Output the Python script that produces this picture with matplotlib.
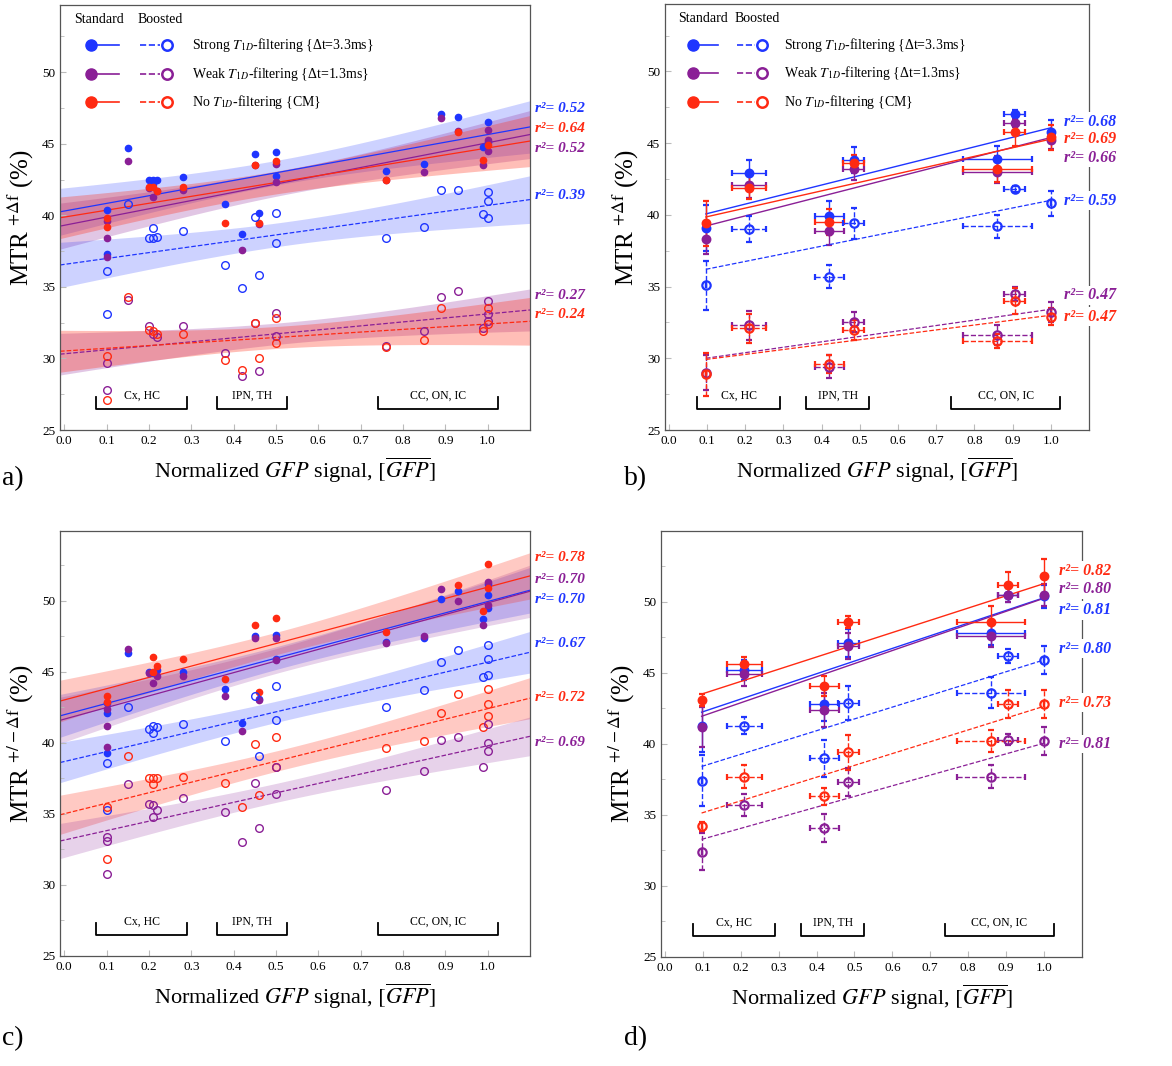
import numpy as np
import matplotlib
matplotlib.use("Agg")
import matplotlib.pyplot as plt
from matplotlib.ticker import MultipleLocator

plt.rcParams['font.family'] = ['Liberation Serif', 'DejaVu Serif']
plt.rcParams['mathtext.fontset'] = 'stix'

BLUE = '#1f35ff'
PURPLE = '#8a1f96'
RED = '#ff2a12'

# ---------- panel a: MTR +df, individual samples ----------
a_sf_x = [0.1, 0.1, 0.15, 0.2, 0.21, 0.22, 0.21, 0.28, 0.38, 0.42, 0.45, 0.46, 0.5, 0.5, 0.76, 0.85, 0.89, 0.93, 0.99, 1.0, 1.0]
a_sf_y = [40.35, 37.3, 44.7, 42.5, 42.5, 42.5, 42.2, 42.7, 40.8, 38.7, 44.3, 40.2, 44.4, 42.75, 43.1, 43.6, 47.1, 46.9, 44.8, 46.5, 45.1]
a_wf_x = [0.1, 0.1, 0.1, 0.15, 0.2, 0.21, 0.22, 0.28, 0.42, 0.45, 0.46, 0.5, 0.5, 0.76, 0.85, 0.89, 0.93, 0.99, 1.0, 1.0, 1.0]
a_wf_y = [39.6, 38.4, 37.1, 43.8, 41.9, 41.3, 41.7, 41.8, 37.6, 43.5, 39.4, 43.6, 42.3, 42.5, 43.0, 46.8, 45.9, 43.5, 46.0, 45.3, 44.5]
a_nf_x = [0.1, 0.1, 0.2, 0.21, 0.22, 0.28, 0.38, 0.45, 0.46, 0.5, 0.76, 0.93, 0.99, 1.0]
a_nf_y = [39.8, 39.2, 42.0, 42.0, 41.7, 42.0, 39.5, 43.5, 39.5, 43.8, 42.5, 45.8, 43.9, 44.9]
a_so_x = [0.1, 0.1, 0.15, 0.2, 0.21, 0.21, 0.22, 0.28, 0.38, 0.42, 0.45, 0.46, 0.5, 0.5, 0.76, 0.85, 0.89, 0.93, 0.99, 1.0, 1.0, 1.0]
a_so_y = [36.1, 33.1, 40.8, 38.4, 39.1, 38.4, 38.5, 38.9, 36.5, 34.9, 39.9, 35.8, 40.2, 38.1, 38.4, 39.2, 41.8, 41.8, 40.1, 41.6, 41.0, 39.8]
a_wo_x = [0.1, 0.1, 0.15, 0.2, 0.21, 0.22, 0.28, 0.38, 0.42, 0.45, 0.46, 0.5, 0.5, 0.76, 0.85, 0.89, 0.93, 0.99, 1.0, 1.0, 1.0]
a_wo_y = [29.7, 27.8, 34.1, 32.3, 31.7, 31.5, 32.3, 30.4, 28.8, 32.5, 29.1, 33.2, 31.6, 30.9, 31.9, 34.3, 34.7, 32.1, 34.0, 33.1, 32.6]
a_no_x = [0.1, 0.1, 0.15, 0.2, 0.21, 0.22, 0.28, 0.38, 0.42, 0.45, 0.46, 0.5, 0.5, 0.76, 0.85, 0.89, 0.99, 1.0, 1.0]
a_no_y = [30.2, 27.1, 34.3, 32.0, 31.9, 31.7, 31.7, 29.9, 29.2, 32.5, 30.0, 32.8, 31.1, 30.8, 31.3, 33.5, 31.9, 33.5, 32.4]

# ---------- panel c: MTR +/-df, individual samples ----------
c_sf_x = [0.1, 0.1, 0.1, 0.15, 0.2, 0.21, 0.22, 0.28, 0.38, 0.42, 0.45, 0.46, 0.5, 0.5, 0.76, 0.85, 0.89, 0.93, 0.99, 1.0, 1.0, 1.0]
c_sf_y = [42.8, 42.1, 39.3, 46.3, 45.0, 44.9, 45.1, 45.0, 43.8, 41.4, 47.5, 43.1, 47.6, 45.9, 47.1, 47.4, 50.1, 50.7, 48.7, 51.2, 50.4, 49.5]
c_wf_x = [0.1, 0.1, 0.1, 0.15, 0.2, 0.21, 0.22, 0.28, 0.38, 0.42, 0.45, 0.46, 0.5, 0.5, 0.76, 0.85, 0.89, 0.93, 0.99, 1.0, 1.0]
c_wf_y = [42.4, 41.2, 39.7, 46.6, 44.9, 44.2, 44.7, 44.7, 43.3, 40.8, 47.4, 43.0, 47.4, 45.8, 47.0, 47.5, 50.8, 50.0, 48.3, 51.3, 49.7]
c_nf_x = [0.1, 0.1, 0.21, 0.21, 0.22, 0.28, 0.38, 0.45, 0.46, 0.5, 0.76, 0.93, 0.99, 1.0, 1.0]
c_nf_y = [43.3, 42.9, 46.0, 45.0, 45.4, 45.9, 44.5, 48.3, 43.6, 48.8, 47.8, 51.1, 49.3, 52.6, 50.9]
c_so_x = [0.1, 0.1, 0.15, 0.2, 0.21, 0.21, 0.22, 0.28, 0.38, 0.45, 0.46, 0.5, 0.5, 0.76, 0.85, 0.89, 0.93, 0.99, 1.0, 1.0, 1.0]
c_so_y = [38.6, 35.3, 42.5, 41.0, 41.2, 40.7, 41.1, 41.3, 40.1, 43.3, 39.1, 44.0, 41.6, 42.5, 43.7, 45.7, 46.5, 44.6, 46.9, 45.9, 44.8]
c_no_x = [0.1, 0.1, 0.15, 0.2, 0.21, 0.21, 0.22, 0.28, 0.38, 0.42, 0.45, 0.46, 0.5, 0.5, 0.76, 0.85, 0.89, 0.93, 0.99, 1.0, 1.0, 1.0]
c_no_y = [35.5, 31.8, 39.1, 37.5, 37.5, 37.1, 37.5, 37.6, 37.2, 35.5, 39.9, 36.3, 40.4, 38.3, 39.6, 40.1, 42.1, 43.4, 41.1, 43.8, 42.7, 41.9]
c_wo_x = [0.1, 0.1, 0.1, 0.15, 0.2, 0.21, 0.21, 0.22, 0.28, 0.38, 0.42, 0.45, 0.46, 0.5, 0.5, 0.76, 0.85, 0.89, 0.93, 0.99, 1.0, 1.0, 1.0]
c_wo_y = [33.4, 33.1, 30.8, 37.1, 35.7, 35.6, 34.8, 35.3, 36.1, 35.1, 33.0, 37.2, 34.0, 36.4, 38.3, 36.7, 38.0, 40.2, 40.4, 38.3, 41.3, 40.0, 39.4]

# ---------- panels b, d: region means ----------
reg_x = [0.097, 0.21, 0.42, 0.484, 0.86, 0.905, 1.0]
reg_xerr = [0.0, 0.045, 0.038, 0.028, 0.09, 0.027, 0.0]

b_sf = [39.1, 42.9, 39.9, 43.8, 43.9, 47.0, 45.8]
b_wf = [38.3, 42.1, 38.9, 43.2, 43.0, 46.4, 45.2]
b_nf = [39.4, 41.9, 39.5, 43.6, 43.2, 45.8, 45.4]
b_so = [35.1, 39.0, 35.7, 39.4, 39.2, 41.8, 40.8]
b_wo = [29.0, 32.3, 29.4, 32.5, 31.6, 34.5, 33.2]
b_no = [28.9, 32.1, 29.6, 32.0, 31.2, 34.0, 32.9]
b_sf_e = [1.6, 0.9, 1.1, 0.9, 0.9, 0.3, 0.8]
b_wf_e = [1.0, 0.9, 1.0, 0.8, 0.8, 0.3, 0.6]
b_nf_e = [1.6, 0.8, 0.9, 0.6, 0.9, 1.0, 0.9]
b_so_e = [1.7, 0.9, 0.8, 1.1, 0.8, 0.2, 0.9]
b_wo_e = [1.2, 1.0, 0.8, 0.7, 0.7, 0.5, 0.7]
b_no_e = [1.5, 1.0, 0.6, 0.7, 0.5, 0.9, 0.6]

d_sf = [41.3, 45.2, 42.8, 47.1, 47.8, 50.5, 50.4]
d_wf = [41.2, 44.9, 42.4, 46.9, 47.6, 50.5, 50.5]
d_nf = [43.1, 45.6, 44.1, 48.6, 48.6, 51.2, 51.8]
d_so = [37.4, 41.3, 39.0, 42.9, 43.6, 46.2, 45.9]
d_wo = [32.4, 35.7, 34.1, 37.3, 37.7, 40.3, 40.2]
d_no = [34.2, 37.7, 36.3, 39.4, 40.2, 42.8, 42.8]
d_sf_e = [1.9, 0.7, 1.2, 1.0, 0.8, 0.5, 0.8]
d_wf_e = [1.4, 0.8, 1.2, 0.9, 0.8, 0.5, 0.8]
d_nf_e = [0.4, 0.5, 0.7, 0.4, 1.1, 0.9, 1.2]
d_so_e = [1.8, 0.6, 1.3, 1.2, 1.1, 0.5, 1.0]
d_wo_e = [1.3, 0.8, 1.0, 1.0, 0.8, 0.4, 1.0]
d_no_e = [0.3, 0.8, 0.6, 1.2, 0.8, 1.0, 1.0]

# r^2 annotations: (text, y, colour)
a_r2 = [('0.52', 47.5, BLUE), ('0.64', 46.1, RED), ('0.52', 44.7, PURPLE), ('0.39', 41.4, BLUE), ('0.27', 34.4, PURPLE), ('0.24', 33.1, RED)]
b_r2 = [('0.68', 46.5, BLUE), ('0.69', 45.3, RED), ('0.66', 44.0, PURPLE), ('0.59', 41.0, BLUE), ('0.47', 34.4, PURPLE), ('0.47', 32.9, RED)]
c_r2 = [('0.78', 53.0, RED), ('0.70', 51.5, PURPLE), ('0.70', 50.1, BLUE), ('0.67', 47.0, BLUE), ('0.72', 43.2, RED), ('0.69', 40.0, PURPLE)]
d_r2 = [('0.82', 52.2, RED), ('0.80', 50.9, PURPLE), ('0.81', 49.4, BLUE), ('0.80', 46.7, BLUE), ('0.73', 42.9, RED), ('0.81', 40.0, PURPLE)]

regions = [('Cx, HC', 0.075, 0.29), ('IPN, TH', 0.36, 0.525), ('CC, ON, IC', 0.74, 1.025)]
legend_rows = [(BLUE, 'Strong $T_{1D}$-filtering {Δt=3.3ms}'),
               (PURPLE, 'Weak $T_{1D}$-filtering {Δt=1.3ms}'),
               (RED, 'No $T_{1D}$-filtering {CM}')]


def fit_line(x, y):
    x = np.asarray(x); y = np.asarray(y)
    k, b = np.polyfit(x, y, 1)
    return k, b, x, y


def band(ax, x, y, color, ls, alpha):
    k, b, x, y = fit_line(x, y)
    xx = np.linspace(-0.01, 1.1, 100)
    n = len(x)
    res = y - (k * x + b)
    s = np.sqrt(np.sum(res ** 2) / (n - 2))
    se = s * np.sqrt(1.0 / n + (xx - x.mean()) ** 2 / np.sum((x - x.mean()) ** 2))
    yy = k * xx + b
    ax.fill_between(xx, yy - 2.05 * se, yy + 2.05 * se, color=color, alpha=alpha, lw=0)
    ax.plot(xx, yy, color=color, ls=ls, lw=0.9)


def setup(ax, ylabel, top):
    ax.set_xlim(-0.01, 1.1)
    ax.set_ylim(25, top)
    ax.set_xticks(np.arange(0, 1.01, 0.1))
    ax.set_xticklabels(['%.1f' % v for v in np.arange(0, 1.01, 0.1)])
    ax.set_yticks([25, 30, 35, 40, 45, 50])
    ax.yaxis.set_minor_locator(MultipleLocator(2.5))
    ax.tick_params(direction='in', length=4, labelsize=9.5, color='#bbbbbb')
    ax.tick_params(which='minor', direction='in', length=3, color='#bbbbbb')
    for s in ax.spines.values():
        s.set_color('#555555')
        s.set_linewidth(0.9)
    ax.set_ylabel(ylabel, fontsize=18)
    ax.set_xlabel('Normalized $\\mathit{GFP}$ signal, $[\\overline{GFP}]$', fontsize=16, labelpad=6)
    for name, x0, x1 in regions:
        ax.plot([x0, x0, x1, x1], [27.3, 26.5, 26.5, 27.3], color='k', lw=1.3)
        ax.text((x0 + x1) / 2, 27.0, name, ha='center', va='bottom', fontsize=8.5)


def r2_labels(ax, items, x, box, size):
    for t, y, c in items:
        ax.text(x, y, 'r²= ' + t, color=c, fontsize=size, fontweight='bold', style='italic',
                ha='left', va='center', clip_on=False,
                bbox=dict(facecolor='white', edgecolor='none', pad=1) if box else None)


def legend(ax):
    tr = ax.transAxes
    ax.text(0.03, 0.965, 'Standard', transform=tr, fontsize=10, va='center')
    ax.text(0.165, 0.965, 'Boosted', transform=tr, fontsize=10, va='center')
    for i, (c, lab) in enumerate(legend_rows):
        y = 0.905 - i * 0.067
        ax.plot([0.065], [y], 'o', color=c, ms=8, transform=tr)
        ax.plot([0.075, 0.125], [y, y], color=c, lw=1.2, transform=tr)
        ax.plot([0.17, 0.212], [y, y], color=c, lw=1.2, ls='--', transform=tr)
        ax.plot([0.228], [y], 'o', mfc='none', mec=c, mew=1.8, ms=7.5, transform=tr)
        ax.text(0.28, y, lab, transform=tr, fontsize=10, va='center')


def scatter_panel(ax, series, alpha_map):
    for x, y, c, filled in series:
        ls = '-' if filled else '--'
        band(ax, x, y, c, ls, alpha_map[c])
    for x, y, c, filled in series:
        if filled:
            ax.plot(x, y, 'o', color=c, ms=4.5, ls='none')
        else:
            ax.plot(x, y, 'o', mfc='none', mec=c, mew=1.0, ms=5.5, ls='none')


def mean_panel(ax, series):
    for y, e, c, filled in series:
        k, b, _, _ = fit_line(reg_x, y)
        xx = np.array([reg_x[0], reg_x[-1]])
        ax.plot(xx, k * xx + b, color=c, lw=1.0 if filled else 0.9, ls='-' if filled else '--')
        cont = ax.errorbar(reg_x, y, yerr=e, xerr=reg_xerr, fmt='o', color=c, ms=5.5 if filled else 6,
                           mfc=c if filled else 'none', mew=1.6, elinewidth=1.0, capsize=2)
        if not filled:
            for lc in cont.lines[2]:
                lc.set_linestyle('--')


fig = plt.figure(figsize=(11.72, 10.66), dpi=100)
ax_a = fig.add_axes([0.0512, 0.5966, 0.401, 0.3987])
ax_b = fig.add_axes([0.5674, 0.5966, 0.3618, 0.3996])
ax_c = fig.add_axes([0.0512, 0.1032, 0.401, 0.3987])
ax_d = fig.add_axes([0.564, 0.1023, 0.3592, 0.3996])

lab1 = 'MTR $^{+\\Delta\\mathrm{f}}$ (%)'
lab2 = 'MTR $^{+/-\\Delta\\mathrm{f}}$ (%)'

alpha_a = {BLUE: 0.22, PURPLE: 0.25, RED: 0.3}
scatter_panel(ax_a, [(a_sf_x, a_sf_y, BLUE, True), (a_wf_x, a_wf_y, PURPLE, True), (a_nf_x, a_nf_y, RED, True),
                     (a_so_x, a_so_y, BLUE, False), (a_wo_x, a_wo_y, PURPLE, False), (a_no_x, a_no_y, RED, False)], alpha_a)
setup(ax_a, lab1, 54.7)
legend(ax_a)
r2_labels(ax_a, a_r2, 1.113, False, 11)

mean_panel(ax_b, [(b_sf, b_sf_e, BLUE, True), (b_wf, b_wf_e, PURPLE, True), (b_nf, b_nf_e, RED, True),
                  (b_so, b_so_e, BLUE, False), (b_wo, b_wo_e, PURPLE, False), (b_no, b_no_e, RED, False)])
setup(ax_b, lab1, 54.7)
legend(ax_b)
r2_labels(ax_b, b_r2, 1.035, True, 11.5)

alpha_c = {BLUE: 0.22, PURPLE: 0.2, RED: 0.25}
scatter_panel(ax_c, [(c_sf_x, c_sf_y, BLUE, True), (c_wf_x, c_wf_y, PURPLE, True), (c_nf_x, c_nf_y, RED, True),
                     (c_so_x, c_so_y, BLUE, False), (c_no_x, c_no_y, RED, False), (c_wo_x, c_wo_y, PURPLE, False)], alpha_c)
setup(ax_c, lab2, 54.9)
r2_labels(ax_c, c_r2, 1.113, False, 11)

mean_panel(ax_d, [(d_sf, d_sf_e, BLUE, True), (d_wf, d_wf_e, PURPLE, True), (d_nf, d_nf_e, RED, True),
                  (d_so, d_so_e, BLUE, False), (d_wo, d_wo_e, PURPLE, False), (d_no, d_no_e, RED, False)])
setup(ax_d, lab2, 55.0)
r2_labels(ax_d, d_r2, 1.04, True, 11.5)

for t, x, y in [('a)', 0.002, 0.545), ('b)', 0.532, 0.545), ('c)', 0.002, 0.02), ('d)', 0.532, 0.02)]:
    fig.text(x, y, t, fontsize=20)

fig.savefig('out.png', dpi=100)
